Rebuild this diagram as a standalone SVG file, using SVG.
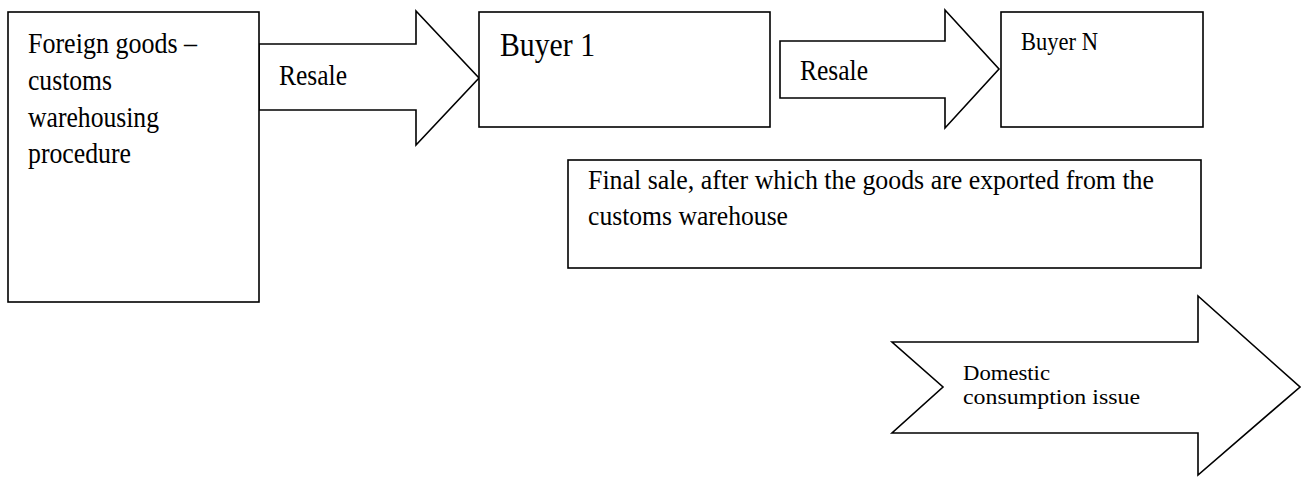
<svg xmlns="http://www.w3.org/2000/svg" width="1301" height="477" viewBox="0 0 1301 477">
<style>
.box{fill:#fff;stroke:#000;stroke-width:1.6}
.arr{fill:#fff;stroke:#000;stroke-width:1.6;stroke-linejoin:miter}
.t{font-family:'Liberation Serif','Times New Roman',Times,serif;fill:#000}
</style>
<rect width="1301" height="477" fill="#fff"/>
<g id="connectors">
  <g id="resale1">
    <polygon class="arr" points="259,44 416,44 416,11 479,78 416,145 416,110 259,110"/>
    <text class="t" x="279" y="85" font-size="30" textLength="68" lengthAdjust="spacingAndGlyphs">Resale</text>
  </g>
  <g id="resale2">
    <polygon class="arr" points="780,41 945,41 945,10 999,69 945,128 945,98 780,98"/>
    <text class="t" x="800" y="80" font-size="30" textLength="68" lengthAdjust="spacingAndGlyphs">Resale</text>
  </g>
</g>
<g id="foreign-goods">
  <rect class="box" x="8" y="12" width="251" height="290"/>
  <text class="t" x="28" y="53" font-size="30" textLength="169" lengthAdjust="spacingAndGlyphs">Foreign goods –</text>
  <text class="t" x="28" y="90" font-size="30" textLength="84" lengthAdjust="spacingAndGlyphs">customs</text>
  <text class="t" x="28" y="127" font-size="30" textLength="131" lengthAdjust="spacingAndGlyphs">warehousing</text>
  <text class="t" x="28" y="163" font-size="30" textLength="103" lengthAdjust="spacingAndGlyphs">procedure</text>
</g>
<g id="buyer-1">
  <rect class="box" x="479" y="12" width="291" height="115"/>
  <text class="t" x="500" y="56" font-size="34" textLength="95" lengthAdjust="spacingAndGlyphs">Buyer 1</text>
</g>
<g id="buyer-n">
  <rect class="box" x="1001" y="12" width="202" height="115"/>
  <text class="t" x="1021" y="50" font-size="26" textLength="77" lengthAdjust="spacingAndGlyphs">Buyer N</text>
</g>
<g id="final-sale">
  <rect class="box" x="568" y="160" width="633" height="108"/>
  <text class="t" x="588" y="189" font-size="27" textLength="566" lengthAdjust="spacingAndGlyphs">Final sale, after which the goods are exported from the</text>
  <text class="t" x="588" y="225" font-size="27" textLength="200" lengthAdjust="spacingAndGlyphs">customs warehouse</text>
</g>
<g id="domestic-consumption">
  <polygon class="arr" points="892,342 1198,342 1198,296 1300,387 1198,475 1198,433 892,433 943,387"/>
  <text class="t" x="963" y="380" font-size="21" textLength="87" lengthAdjust="spacingAndGlyphs">Domestic</text>
  <text class="t" x="963" y="404" font-size="21" textLength="177" lengthAdjust="spacingAndGlyphs">consumption issue</text>
</g>
</svg>
